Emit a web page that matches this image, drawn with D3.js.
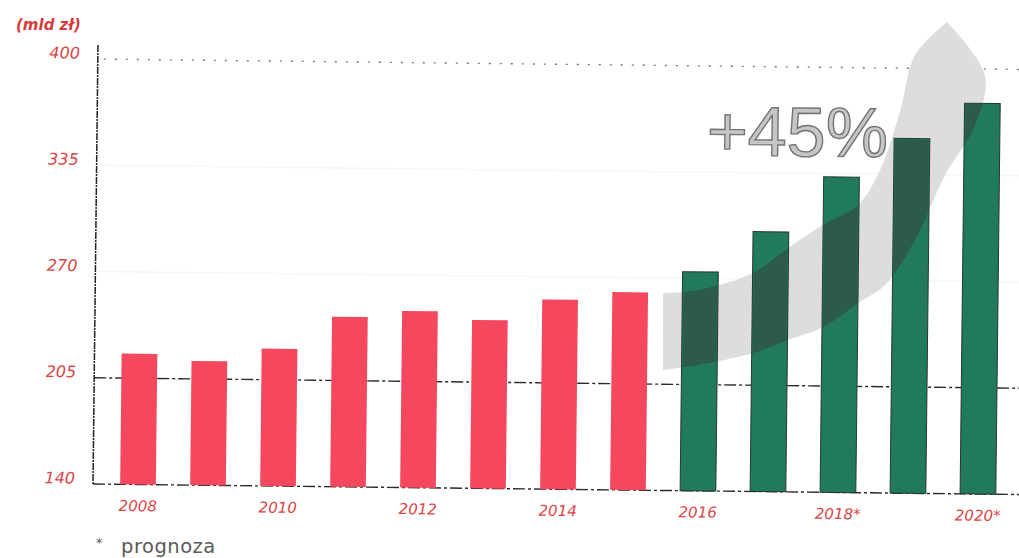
<!DOCTYPE html>
<html>
<head>
<meta charset="utf-8">
<script src="https://d3js.org/d3.v7.min.js"></script>
<style>
  body { margin: 0; background: #fff; }
  svg { display: block; }
</style>
</head>
<body>
<svg id="chart" width="1019" height="558"></svg>
<script>
// data (mld zl)
var years = ["2008","2009","2010","2011","2012","2013","2014","2015","2016","2017","2018","2019","2020"];
var values = [220, 216, 224, 244, 248, 243, 256, 261, 274, 299, 333, 357, 379];
var forecastFrom = "2016"; // green bars from here on
var tickLabels = {"2008":"2008","2010":"2010","2012":"2012","2014":"2014","2016":"2016","2018":"2018*","2020":"2020*"};
var yTicks = [140, 205, 270, 335, 400];

// swoosh arrow outline, in (year position, value) units
var arrowLower = [[2015.48,213.7],[2015.98,217.0],[2016.77,224.7],[2017.26,232.9],[2017.76,241.1],[2018.26,256.1],
                  [2018.64,267.2],[2019.06,295.0],[2019.48,335.0],[2019.90,365.7],[2020.03,396.4],[2019.48,428.6]];
var arrowUpper = [[2019.48,428.6],[2019.03,408.1],[2018.83,374.4],[2018.55,337.5],[2018.24,316.0],[2017.74,303.5],
                  [2017.25,289.2],[2016.75,273.7],[2015.97,262.9],[2015.47,260.8]];

var svg = d3.select("#chart");
var axisX = 93, baseY = 484;

var x = d3.scaleBand().domain(years).range([103, 1013]).paddingInner(0.49).paddingOuter(0.245);
var xPos = d3.scaleLinear().domain([2007.5, 2020.5]).range([103, 1013]);
var y = d3.scaleLinear().domain([140, 400]).range([baseY, 59]);

// the scan is a little tilted
var g = svg.append("g").attr("transform", "rotate(0.65," + axisX + "," + baseY + ")");

// faint grid lines
g.selectAll("line.faint").data([270, 335]).enter().append("line")
  .attr("x1", axisX).attr("x2", 1019)
  .attr("y1", function(d){ return y(d); }).attr("y2", function(d){ return y(d); })
  .attr("stroke", "#f6f6f6").attr("stroke-width", 1.5);

// top dotted line
g.append("line").attr("x1", axisX + 6).attr("x2", 1019).attr("y1", y(400)).attr("y2", y(400))
  .attr("stroke", "#777").attr("stroke-width", 1.4).attr("stroke-dasharray", "2,9");

// dash-dot lines at 205 and base
g.selectAll("line.grid").data([205, 140]).enter().append("line")
  .attr("x1", axisX).attr("x2", 1019)
  .attr("y1", function(d){ return y(d); }).attr("y2", function(d){ return y(d); })
  .attr("stroke", "#2a2a2a").attr("stroke-width", 1.4).attr("stroke-dasharray", "12,3,3,3");

// vertical axis
g.append("line").attr("x1", axisX).attr("x2", axisX).attr("y1", 45).attr("y2", baseY)
  .attr("stroke", "#222").attr("stroke-width", 1.5).attr("stroke-dasharray", "7,1,2,1");

// arrow: two curved edges, sharp tip, straight cut on the left
var edge = d3.line()
  .x(function(d){ return xPos(d[0]); })
  .y(function(d){ return y(d[1]); })
  .curve(d3.curveCatmullRom.alpha(0.5));
var arrowD = edge(arrowLower) + edge(arrowUpper).replace(/^M/, "L") + "Z";
g.append("path").attr("d", arrowD).attr("fill", "#dddddd");

// bars
var bars = years.map(function(yr, i){ return {year: yr, value: values[i], forecast: +yr >= +forecastFrom}; });
g.selectAll("rect.bar").data(bars).enter().append("rect")
  .attr("class", "bar")
  .attr("x", function(d){ return x(d.year); })
  .attr("width", x.bandwidth())
  .attr("y", function(d){ return y(d.value); })
  .attr("height", function(d){ return y(140) - y(d.value); })
  .attr("fill", function(d){ return d.forecast ? "#217a5e" : "#f5475e"; })
  .attr("stroke", function(d){ return d.forecast ? "#24382f" : "none"; })
  .attr("stroke-width", 1);

// darker part where the arrow runs over green bars
var clip = svg.append("defs").append("clipPath").attr("id", "greenBars");
clip.selectAll("rect").data(bars.filter(function(d){ return d.forecast; })).enter().append("rect")
  .attr("x", function(d){ return x(d.year) + 1; })
  .attr("width", x.bandwidth() - 2)
  .attr("y", function(d){ return y(d.value) + 1; })
  .attr("height", function(d){ return y(140) - y(d.value) - 1; });
g.append("path").attr("d", arrowD).attr("fill", "#2c5b4b")
  .attr("clip-path", "url(#greenBars)");

// +45% label
g.append("text")
  .attr("x", xPos(2016.07)).attr("y", y(345.5))
  .attr("font-family", "Liberation Sans, Arial, sans-serif")
  .attr("font-size", 70)
  .attr("fill", "#c6c6c6").attr("stroke", "#747474").attr("stroke-width", 1.4)
  .text("+45%");

// y axis labels
var yAxis = d3.axisLeft(y).tickValues(yTicks).tickSize(0).tickPadding(18);
var ya = g.append("g").attr("transform", "translate(" + axisX + ",0)").call(yAxis);
ya.select(".domain").remove();
ya.selectAll("text")
  .attr("dy", "-0.05em")
  .attr("font-family", "DejaVu Sans, sans-serif").attr("font-style", "italic")
  .attr("font-size", 16).attr("fill", "#dc4343");

// x axis labels
var xAxis = d3.axisBottom(x).tickSize(0).tickPadding(16)
  .tickFormat(function(d){ return tickLabels[d] || ""; });
var xa = g.append("g").attr("transform", "translate(0," + baseY + ")").call(xAxis);
xa.select(".domain").remove();
xa.selectAll("text")
  .attr("font-family", "DejaVu Sans, sans-serif").attr("font-style", "italic")
  .attr("font-size", 15).attr("fill", "#dc4343");

// unit
svg.append("text").attr("x", 16).attr("y", 30)
  .attr("font-family", "DejaVu Sans, sans-serif").attr("font-style", "italic").attr("font-weight", "bold")
  .attr("font-size", 15).attr("fill", "#d63c3c")
  .text("(mld zł)");

// footnote
var foot = svg.append("text").attr("x", 96).attr("y", 553)
  .attr("font-family", "DejaVu Sans, sans-serif").attr("fill", "#5a5a5a");
foot.append("tspan").attr("font-size", 13).attr("dy", -6).text("*");
foot.append("tspan").attr("x", 121).attr("dy", 6).attr("font-size", 19.5).attr("letter-spacing", 0.5).text("prognoza");
</script>
</body>
</html>
